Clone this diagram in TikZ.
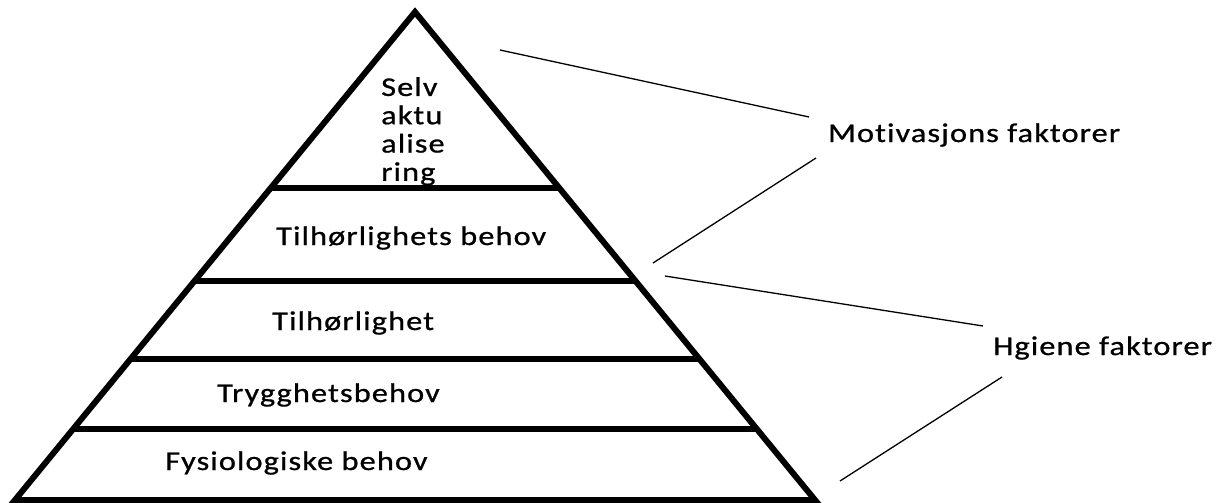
\documentclass[tikz,border=0pt]{standalone}
\usepackage{fontspec}
\setmainfont{Carlito}
\newfontfamily\lblfont[FakeStretch=1.2,LetterSpace=4,FakeBold=0.8,Ligatures=NoCommon]{Carlito}
\usetikzlibrary{calc}
\begin{document}
\begin{tikzpicture}[x=1pt,y=-1pt,
  thick line/.style={line width=6pt, line join=miter},
  thin line/.style={line width=1.3pt},
  lbl/.style={anchor=base west, inner sep=0pt, font=\lblfont\fontsize{27}{28}\selectfont}]
\useasboundingbox (0,0) rectangle (1229,503);
\coordinate (apex) at (415,12);
\coordinate (bl) at (15,500);
\coordinate (br) at (815,500);
\draw[thick line] (bl) -- (apex) -- (br) -- cycle;
% bars
\foreach \y/\n in {188/a,281/b,359/c,429/d}{
  \coordinate (L\n) at ($(apex)!{(\y-12)/488}!(bl)$);
  \coordinate (R\n) at ($(apex)!{(\y-12)/488}!(br)$);
  \draw[thick line] (L\n) -- (R\n);
}
% labels
\node[anchor=north west, inner sep=0pt, align=left, font=\lblfont\fontsize{27}{28.3}\selectfont] (selv) at (381,77) {Selv\\aktu\\alise\\ring};
\node[lbl] (tb) at (276,245) {Tilhørlighets behov};
\node[lbl] (t) at (272,330) {Tilhørlighet};
\node[lbl] (tr) at (217,402) {Trygghetsbehov};
\node[lbl] (f) at (165,470) {Fysiologiske behov};
\node[lbl] (m) at (828,142) {Motivasjons faktorer};
\node[lbl] (h) at (993,355) {Hgiene faktorer};
% thin lines
\coordinate (m1a) at (500,50);  \coordinate (m1b) at (809,117);
\coordinate (m2a) at (816,158); \coordinate (m2b) at (653,263);
\coordinate (h1a) at (665,276); \coordinate (h1b) at (983,326);
\coordinate (h2a) at (1002,377); \coordinate (h2b) at (840,481);
\draw[thin line] (m1a) -- (m1b);
\draw[thin line] (m2a) -- (m2b);
\draw[thin line] (h1a) -- (h1b);
\draw[thin line] (h2a) -- (h2b);
\end{tikzpicture}
\end{document}
